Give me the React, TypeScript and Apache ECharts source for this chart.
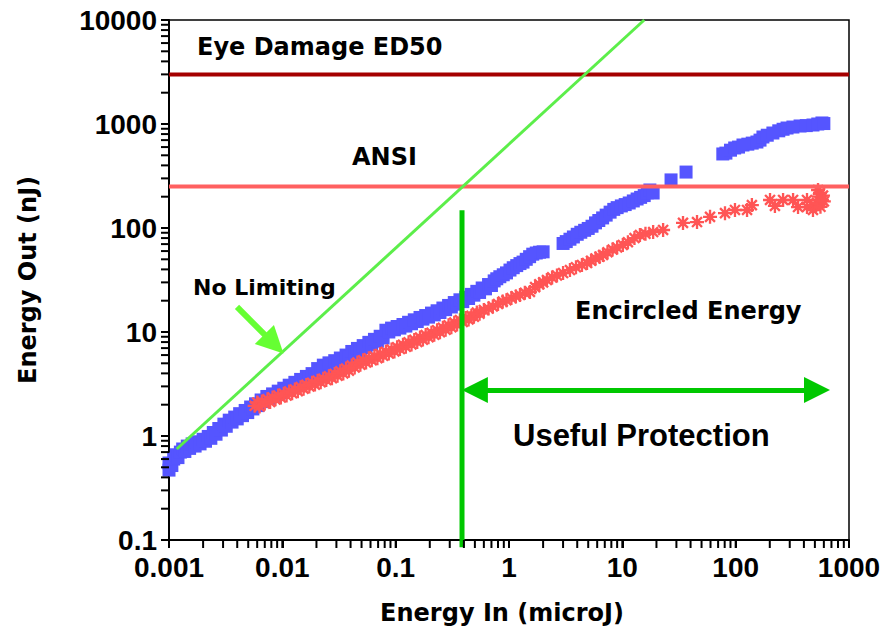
import React, { useEffect, useRef } from 'react';
import * as echarts from 'echarts';

const xTickLabels = ['0.001', '0.01', '0.1', '1', '10', '100', '1000'];
const yTickLabels = ['0.1', '1', '10', '100', '1000', '10000'];
const xDecades = [0.001, 0.01, 0.1, 1, 10, 100];
const yDecades = [0.1, 1, 10, 100, 1000];
const minorSteps = [2, 3, 4, 5, 6, 7, 8, 9];

// Limiter output, blue squares: [energy in (microJ), energy out (nJ)]
const limiterPoints: [number, number][] = [
  [0.001, 0.47], [0.001, 0.55], [0.00106, 0.52], [0.0011, 0.6], [0.00116, 0.66], [0.0012, 0.62],
  [0.00126, 0.7], [0.00132, 0.75], [0.00138, 0.71], [0.00145, 0.8], [0.00152, 0.76], [0.0016, 0.84],
  [0.0017, 0.8], [0.00178, 0.88], [0.00188, 0.84], [0.002, 0.93], [0.0021, 0.89], [0.00222, 0.99],
  [0.00234, 0.95], [0.00246, 1.08], [0.0026, 1.04], [0.00275, 1.18], [0.0029, 1.14], [0.00305, 1.3],
  [0.0032, 1.24], [0.0034, 1.42], [0.0036, 1.36], [0.0038, 1.52], [0.004, 1.46], [0.0042, 1.64],
  [0.00445, 1.57], [0.0047, 1.76], [0.00495, 1.68], [0.00525, 1.9], [0.0055, 1.82], [0.0058, 2.04],
  [0.0061, 1.96], [0.0065, 2.22], [0.0069, 2.14], [0.0073, 2.4], [0.0077, 2.3], [0.0082, 2.54],
  [0.0087, 2.46], [0.0092, 2.7], [0.0097, 2.6], [0.0103, 2.88], [0.0109, 2.78], [0.0115, 3.08],
  [0.0122, 2.96], [0.0129, 3.28], [0.0137, 3.16], [0.0145, 3.5], [0.0154, 3.38], [0.0163, 3.74],
  [0.0173, 3.6], [0.0183, 3.98], [0.0194, 3.84], [0.0205, 4.45], [0.0218, 4.25], [0.023, 4.8],
  [0.0244, 4.62], [0.0258, 5.05], [0.0274, 4.86], [0.029, 5.3], [0.0307, 5.1], [0.0325, 5.62],
  [0.0345, 5.4], [0.0365, 6.0], [0.0387, 5.75], [0.041, 6.5], [0.0435, 6.2], [0.046, 6.95],
  [0.0488, 6.65], [0.0517, 7.4], [0.0548, 7.1], [0.058, 7.95], [0.0615, 7.6], [0.065, 8.5],
  [0.069, 8.15], [0.073, 9.1], [0.0775, 8.75], [0.082, 10.4], [0.087, 10.0], [0.092, 10.9],
  [0.0975, 10.5], [0.103, 11.3], [0.109, 10.9], [0.116, 11.8], [0.123, 11.4], [0.13, 12.4],
  [0.138, 12.0], [0.146, 13.1], [0.155, 12.6], [0.164, 13.8], [0.174, 13.3], [0.184, 14.4],
  [0.195, 13.9], [0.207, 15.2], [0.219, 14.6], [0.232, 16.0], [0.246, 15.4], [0.261, 17.0],
  [0.276, 16.4], [0.293, 18.0], [0.31, 17.4], [0.329, 19.2], [0.348, 18.5], [0.369, 20.4],
  [0.391, 19.6], [0.415, 21.6], [0.44, 21.0], [0.466, 23.0], [0.49, 22.6], [0.52, 24.6],
  [0.55, 24.0], [0.58, 26.5], [0.62, 26.0], [0.66, 28.6], [0.7, 28.0], [0.74, 31.0],
  [0.78, 32.5], [0.83, 34.0], [0.89, 35.5], [0.95, 37.0], [1.02, 39.4], [1.09, 41.5],
  [1.17, 43.5], [1.25, 45.5], [1.33, 47.0], [1.42, 50.0], [1.52, 53.0], [1.62, 56.0],
  [1.74, 57.5], [1.86, 58.5], [2.0, 59.0],
  [3.0, 71], [3.2, 74], [3.45, 78], [3.7, 82], [4.0, 87], [4.3, 91], [4.65, 95], [5.0, 99],
  [5.4, 104], [5.8, 112], [6.2, 118], [6.7, 125], [7.2, 133], [7.8, 142], [8.4, 151], [9.0, 157],
  [9.8, 163], [10.6, 168], [11.5, 174], [12.5, 182], [13.5, 190], [14.5, 197], [15.6, 205],
  [16.6, 218], [17.5, 232], [18.7, 217],
  [26.9, 290], [36.5, 345],
  [77, 515], [82, 525], [90, 560], [98, 588], [106, 600], [116, 628], [128, 640], [140, 655],
  [154, 671], [164, 700], [174, 750], [190, 780], [213, 819], [240, 860], [262, 890], [284, 915],
  [320, 935], [370, 957], [420, 965], [481, 978], [530, 1000], [577, 1023], [600, 1010],
];

// Encircled energy, red asterisks
const encircledPoints: [number, number][] = [
  [0.0057, 1.95], [0.006, 2.1], [0.0063, 1.92], [0.0066, 2.15], [0.007, 2.05], [0.0074, 2.25],
  [0.0078, 2.12], [0.0082, 2.35], [0.0087, 2.25], [0.0092, 2.45], [0.0097, 2.35], [0.0103, 2.55],
  [0.0109, 2.45], [0.0115, 2.68], [0.0122, 2.58], [0.0129, 2.8], [0.0137, 2.7], [0.0145, 2.95],
  [0.0154, 2.85], [0.0163, 3.1], [0.0173, 3.0], [0.0183, 3.25], [0.0194, 3.12], [0.0205, 3.4],
  [0.0218, 3.28], [0.023, 3.55], [0.0244, 3.45], [0.0258, 3.75], [0.0274, 3.6], [0.029, 3.95],
  [0.0307, 3.8], [0.0325, 4.2], [0.0345, 4.0], [0.0365, 4.45], [0.0387, 4.25], [0.041, 4.75],
  [0.0435, 4.55], [0.046, 5.1], [0.0488, 4.85], [0.0517, 5.35], [0.0548, 5.1], [0.058, 5.6],
  [0.0615, 5.35], [0.065, 5.85], [0.069, 5.6], [0.073, 6.15], [0.0775, 5.9], [0.082, 6.45],
  [0.087, 6.2], [0.092, 6.8], [0.0975, 6.5], [0.103, 7.15], [0.109, 6.85], [0.116, 7.55],
  [0.123, 7.2], [0.13, 7.95], [0.138, 7.6], [0.146, 8.4], [0.155, 8.0], [0.164, 8.85],
  [0.174, 8.45], [0.184, 9.35], [0.195, 8.9], [0.207, 9.85], [0.219, 9.4], [0.232, 10.4],
  [0.246, 9.95], [0.261, 11.0], [0.276, 10.5], [0.293, 11.6], [0.31, 11.1], [0.329, 12.3],
  [0.348, 11.8], [0.369, 13.0], [0.391, 12.5], [0.415, 13.6], [0.44, 13.2], [0.466, 14.3],
  [0.49, 14.0], [0.52, 15.4], [0.55, 15.0], [0.6, 16.3], [0.66, 16.8], [0.72, 17.6],
  [0.8, 18.6], [0.88, 19.6], [0.95, 20.2], [1.05, 21.2], [1.15, 22.0], [1.25, 22.7],
  [1.38, 23.8], [1.53, 24.3], [1.7, 27.0], [1.85, 28.8], [2.0, 30.0], [2.16, 31.6],
  [2.4, 33.5], [2.65, 35.0], [3.0, 36.9], [3.45, 39.4], [3.9, 42.0], [4.4, 44.0],
  [4.88, 46.0], [5.3, 48.5], [5.8, 51.0], [6.3, 53.0], [6.75, 55.0], [7.4, 58.5],
  [8.2, 62.0], [9.0, 65.0], [10.1, 68.7], [11.2, 73.0], [12.8, 80.0], [14.3, 85.7],
  [16.0, 88.0], [18.7, 91.5], [22.9, 95.7], [34.3, 112], [45.6, 114], [59.4, 128],
  [80.5, 139], [98.6, 149], [126, 149], [139, 166], [201, 186], [222, 163], [262, 186],
  [321, 186], [355, 159], [426, 159], [426, 186], [481, 149], [500, 165], [522, 174],
  [540, 200], [555, 217], [533, 232], [577, 186], [560, 160], [590, 205], [600, 180],
];

const ed50Level = 3000;
const ansiLevel = 250;
const noLimitingLine: [number, number][] = [[0.00117, 0.75], [15.6, 10000]];
const thresholdLine: [number, number][] = [[0.385, 0.085], [0.385, 148]];
const protectionArrow: [number, number][] = [[0.5, 2.77], [522, 2.77]];
const pointerArrow: [number, number][] = [[0.00398, 17.4], [0.00843, 7.67]];

const asterisk =
  'path://M-1,-6L1,-6L1,6L-1,6Z M-6,-1L6,-1L6,1L-6,1Z ' +
  'M3.53,4.95L-4.95,-3.53L-3.53,-4.95L4.95,3.53Z M4.95,-3.53L-3.53,4.95L-4.95,3.53L3.53,-4.95Z';

const annFont = 'bold 24px "DejaVu Sans"';

export default function App() {
  const ref = useRef<HTMLDivElement>(null);
  useEffect(() => {
    if (!ref.current) return;
    const chart = echarts.init(ref.current, undefined, { renderer: 'svg' });
    chart.setOption({
      animation: false,
      backgroundColor: '#fff',
      grid: { left: 169, right: 36, top: 20, bottom: 88, show: true, borderColor: '#000', borderWidth: 1.5 },
      xAxis: {
        type: 'log', logBase: 10, min: 0.001, max: 1000,
        axisLine: { show: true, lineStyle: { color: '#000', width: 2 } },
        axisTick: { show: true, length: 8, lineStyle: { color: '#000', width: 2 } },
        splitLine: { show: false },
        axisLabel: {
          fontFamily: 'Liberation Sans', fontWeight: 'bold', fontSize: 28, color: '#000', margin: 13,
          formatter: (v: number) => xTickLabels[Math.round(Math.log10(v)) + 3],
        },
      },
      yAxis: {
        type: 'log', logBase: 10, min: 0.1, max: 10000,
        axisLine: { show: true, lineStyle: { color: '#000', width: 2 } },
        axisTick: { show: true, length: 8, lineStyle: { color: '#000', width: 2 } },
        splitLine: { show: false },
        axisLabel: {
          fontFamily: 'Liberation Sans', fontWeight: 'bold', fontSize: 28, color: '#000', margin: 12,
          formatter: (v: number) => yTickLabels[Math.round(Math.log10(v)) + 1],
        },
      },
      series: [
        { type: 'scatter', data: limiterPoints, symbol: 'rect', symbolSize: 13, itemStyle: { color: '#5555ff', opacity: 1 }, z: 2 },
        { type: 'scatter', data: encircledPoints, symbol: asterisk, symbolSize: 14, itemStyle: { color: '#ff5555', opacity: 1 }, z: 3 },
        { type: 'line', data: [[0.001, ed50Level], [1000, ed50Level]], symbol: 'none', lineStyle: { color: '#a50000', width: 4 }, z: 4 },
        { type: 'line', data: [[0.001, ansiLevel], [1000, ansiLevel]], symbol: 'none', lineStyle: { color: '#ff6060', width: 4 }, z: 4 },
        { type: 'line', data: noLimitingLine, symbol: 'none', lineStyle: { color: '#5cee4a', width: 3 }, z: 4 },
        { type: 'line', data: thresholdLine, symbol: 'none', clip: false, lineStyle: { color: '#00c800', width: 5 }, z: 5 },
        {
          type: 'lines', coordinateSystem: 'cartesian2d', polyline: false,
          symbol: ['triangle', 'triangle'], symbolSize: 26,
          lineStyle: { color: '#00c800', width: 5, opacity: 1 },
          data: [{ coords: protectionArrow }], z: 5,
        },
        {
          type: 'lines', coordinateSystem: 'cartesian2d', polyline: false,
          symbol: ['none', 'triangle'], symbolSize: 27,
          lineStyle: { color: '#66ff33', width: 6, opacity: 1 },
          data: [{ coords: pointerArrow }], z: 5,
        },
      ],
    });

    // Tick marks placed through the chart's own log scales
    const ticks: any[] = [];
    const xVals: number[] = [1000];
    xDecades.forEach((d) => { xVals.push(d); minorSteps.forEach((m) => xVals.push(d * m)); });
    const yVals: number[] = [10000];
    yDecades.forEach((d) => { yVals.push(d); minorSteps.forEach((m) => yVals.push(d * m)); });
    xVals.forEach((v) => {
      const p = chart.convertToPixel({ gridIndex: 0 }, [v, 0.1]) as number[];
      if (p && isFinite(p[0])) {
        ticks.push({ type: 'line', z: 100, shape: { x1: p[0], y1: p[1], x2: p[0], y2: p[1] + 8 }, style: { stroke: '#000', lineWidth: 2 } });
      }
    });
    yVals.forEach((v) => {
      const p = chart.convertToPixel({ gridIndex: 0 }, [0.001, v]) as number[];
      if (p && isFinite(p[1])) {
        ticks.push({ type: 'line', z: 100, shape: { x1: p[0] - 8, y1: p[1], x2: p[0], y2: p[1] }, style: { stroke: '#000', lineWidth: 2 } });
      }
    });

    chart.setOption({
      graphic: [
        { type: 'text', x: 197, y: 47, style: { text: 'Eye Damage ED50', font: annFont, fill: '#000', textVerticalAlign: 'middle' } },
        { type: 'text', x: 352, y: 157, style: { text: 'ANSI', font: annFont, fill: '#000', textVerticalAlign: 'middle' } },
        { type: 'text', x: 193, y: 287, style: { text: 'No Limiting', font: 'bold 22px "DejaVu Sans"', fill: '#000', textVerticalAlign: 'middle' } },
        { type: 'text', x: 575, y: 311, style: { text: 'Encircled Energy', font: 'bold 24px "DejaVu Sans"', fill: '#000', textVerticalAlign: 'middle' } },
        { type: 'text', x: 513, y: 435, style: { text: 'Useful Protection', font: 'bold 31px "Liberation Sans"', fill: '#000', textVerticalAlign: 'middle' } },
        { type: 'text', x: 502, y: 613, style: { text: 'Energy In (microJ)', font: 'bold 24px "DejaVu Sans"', fill: '#000', textAlign: 'center', textVerticalAlign: 'middle' } },
        { type: 'text', x: 28, y: 280, rotation: Math.PI / 2, style: { text: 'Energy Out (nJ)', font: 'bold 24px "DejaVu Sans"', fill: '#000', textAlign: 'center', textVerticalAlign: 'middle' } },
        ...ticks,
      ],
    });
    return () => chart.dispose();
  }, []);
  return <div ref={ref} style={{ position: 'fixed', left: 0, top: 0, width: 885, height: 628 }} />;
}
